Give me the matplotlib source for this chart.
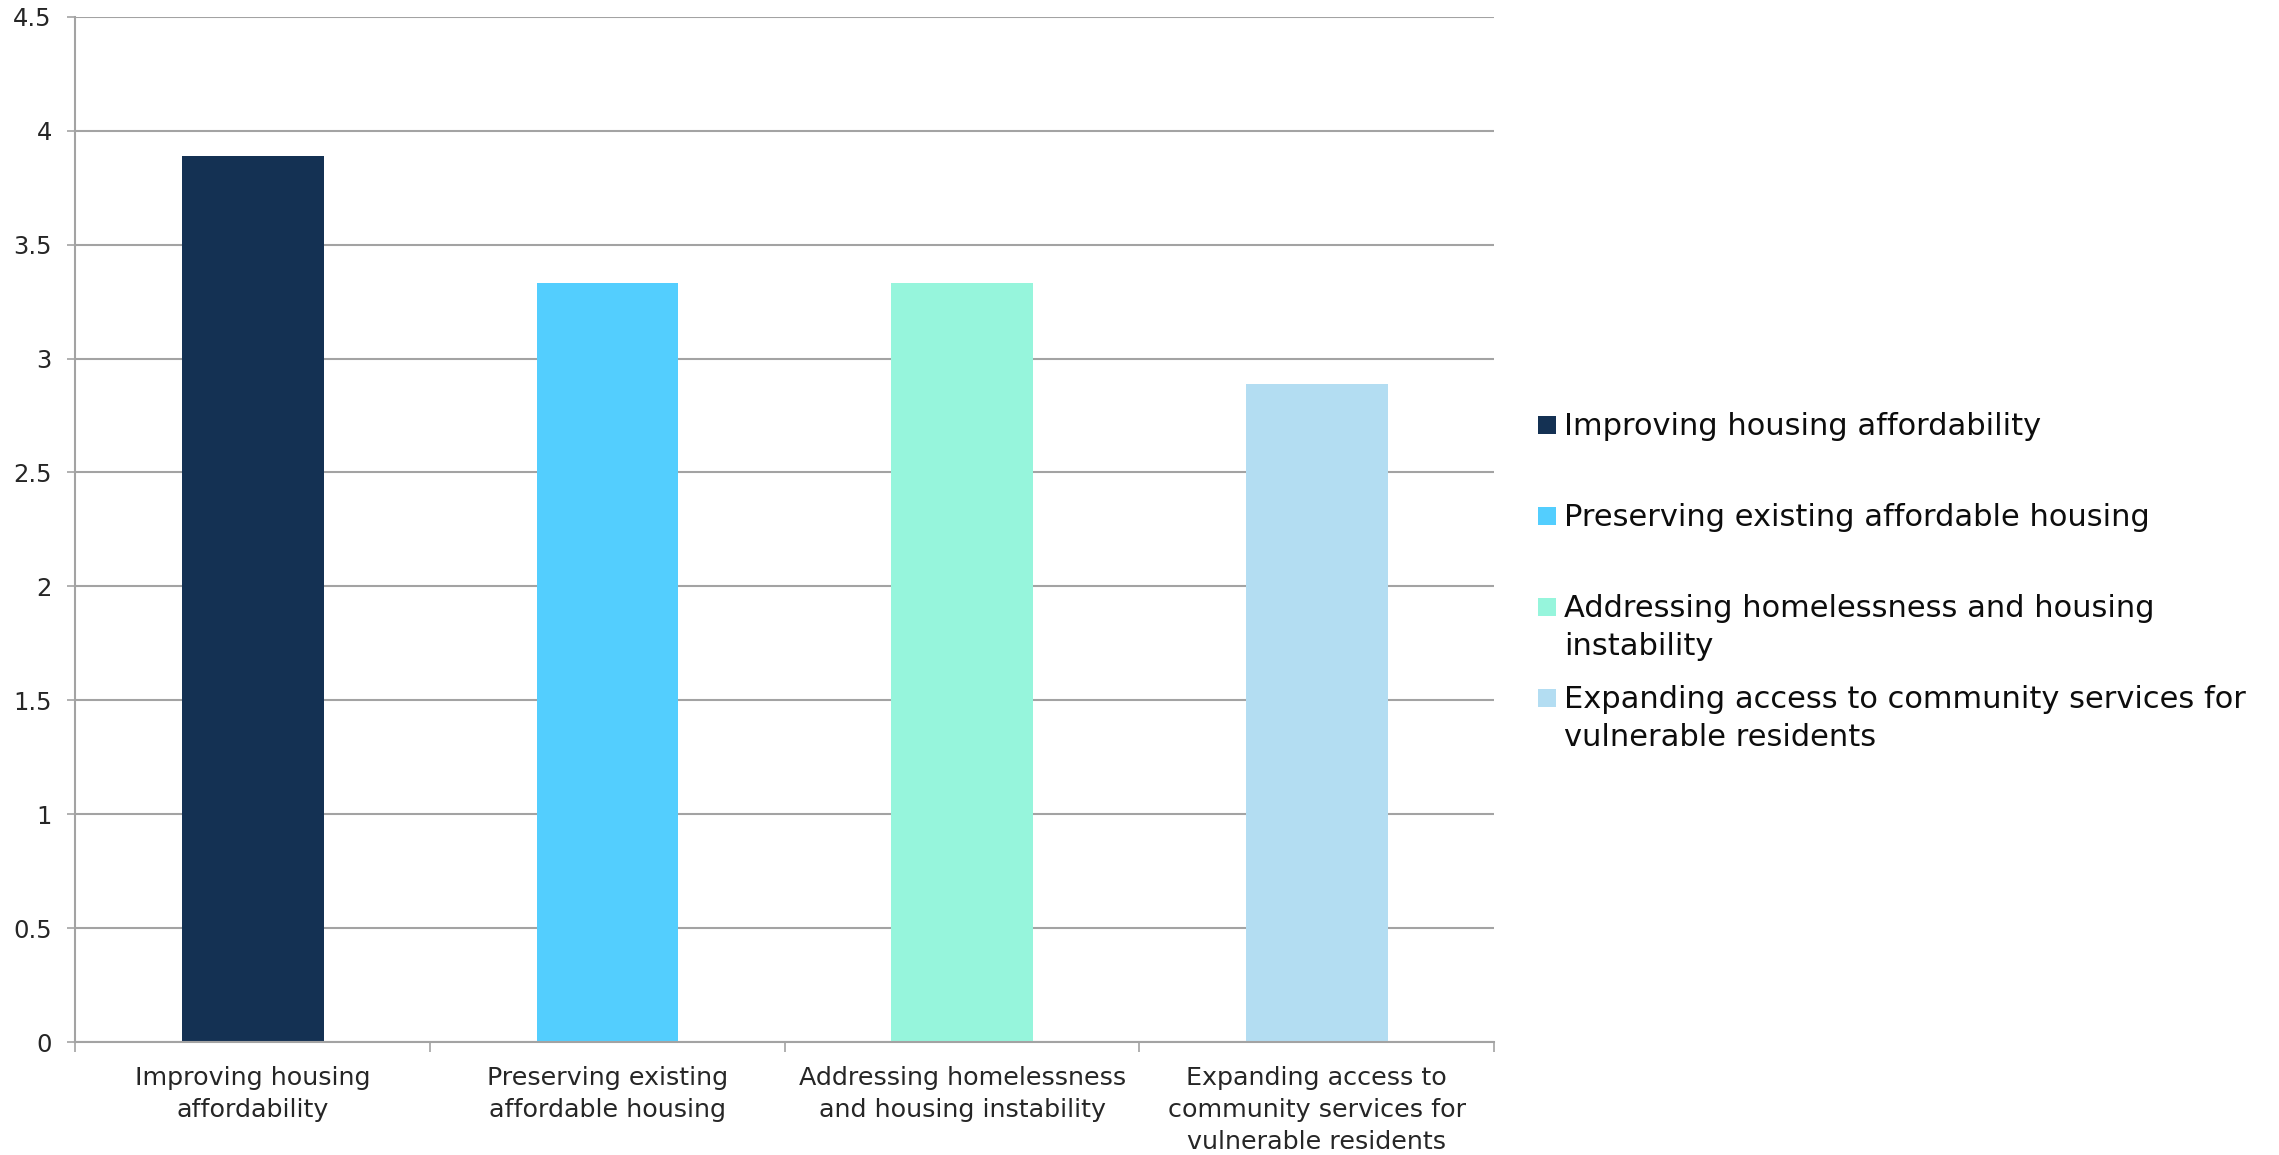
import matplotlib.pyplot as plt
from matplotlib.patches import Rectangle
from matplotlib.ticker import FixedLocator, NullFormatter
import numpy as np

# chart data
categories = ['Improving housing\naffordability',
              'Preserving existing\naffordable housing',
              'Addressing homelessness\nand housing instability',
              'Expanding access to\ncommunity services for\nvulnerable residents']
legend_labels = ['Improving housing affordability',
                 'Preserving existing affordable housing',
                 'Addressing homelessness and housing\ninstability',
                 'Expanding access to community services for\nvulnerable residents']
scores = [3.89, 3.33, 3.33, 2.89]
colors = ['#143153', '#53CEFE', '#96F5DC', '#B3DDF2']
y_ticks = [0, 0.5, 1, 1.5, 2, 2.5, 3, 3.5, 4, 4.5]

plt.rcParams['font.family'] = ['DejaVu Sans']

W, H = 2279, 1155
fig = plt.figure(figsize=(W / 100, H / 100), dpi=100)
ax = fig.add_axes([0.0331, 0.0978, 0.6225, 0.8877])

x = np.arange(len(categories))
ax.bar(x, scores, width=0.4, color=colors, zorder=2)

ax.set_xlim(-0.5, len(categories) - 0.5)
ax.set_ylim(0, 4.5)
ax.set_yticks(y_ticks)
ax.set_yticklabels([f'{v:g}' for v in y_ticks])
ax.yaxis.grid(True, color='#A3A3A3', linewidth=1.5, zorder=1)
ax.set_axisbelow(True)

# category labels centred, ticks at the boundaries
ax.set_xticks(x)
ax.set_xticklabels(categories, linespacing=1.42)
ax.tick_params(axis='x', which='major', length=0, pad=17, labelsize=18.3, labelcolor='#262626')
ax.xaxis.set_minor_locator(FixedLocator(np.arange(-0.5, len(categories), 1)))
ax.xaxis.set_minor_formatter(NullFormatter())
ax.tick_params(axis='x', which='minor', length=7, width=1.2, color='#A3A3A3')
ax.tick_params(axis='y', length=6, width=1.2, color='#A3A3A3', pad=11,
               labelsize=17.5, labelcolor='#262626')

for side in ['top', 'right']:
    ax.spines[side].set_visible(False)
for side in ['left', 'bottom']:
    ax.spines[side].set_color('#A3A3A3')
    ax.spines[side].set_linewidth(1.5)
ax.spines['bottom'].set_zorder(3)

# legend drawn by hand so the swatch sits on the first line of each label
leg_x, leg_y0, leg_step, sw = 1538, 425, 91, 18
for i, (lab, c) in enumerate(zip(legend_labels, colors)):
    yc = leg_y0 + leg_step * i
    fig.patches.append(Rectangle((leg_x / W, 1 - (yc + sw / 2) / H), sw / W, sw / H,
                                 transform=fig.transFigure, facecolor=c, edgecolor='none'))
    fig.text((leg_x + sw + 8) / W, 1 - (yc - 13) / H, lab, fontsize=22, color='#0D0D0D',
             va='top', ha='left', linespacing=1.4)

fig.savefig('out.png', dpi=100)
